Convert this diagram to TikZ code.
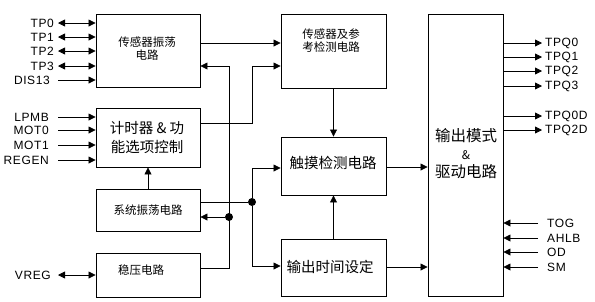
\documentclass[tikz,border=0pt]{standalone}
\usepackage{fontspec}
\setmainfont{Liberation Sans}
\newfontfamily\cjk{Noto Sans CJK SC}
\newfontfamily\pinfont[LetterSpace=5]{Liberation Sans}
\usetikzlibrary{arrows.meta}

\tikzset{
  blk/.style={draw, line width=0.9pt, inner sep=0pt},
  pin/.style={font=\pinfont\fontsize{12}{13}\selectfont, inner sep=0pt},
  arr/.style={line width=0.8pt, -{Triangle[length=7pt,width=7pt]}},
  darr/.style={line width=0.8pt, {Triangle[length=7pt,width=7pt]}-{Triangle[length=7pt,width=7pt]}},
  txts/.style={font=\cjk\fontsize{11.5}{13}\selectfont, align=center},
  txtl/.style={font=\cjk\fontsize{14.5}{19}\selectfont, align=center},
  dot/.style={circle, fill, inner sep=0pt, minimum size=8pt},
}

\begin{document}
\begin{tikzpicture}[x=1pt,y=-1pt]
\useasboundingbox (0,0) rectangle (595,301);

%left column of blocks
\node[blk, minimum width=104, minimum height=73] (osc) at (148,50.5) {};
\node[blk, minimum width=104, minimum height=59] (timer) at (148,137.5) {};
\node[blk, minimum width=104, minimum height=42] (sysosc) at (148,210) {};
\node[blk, minimum width=104, minimum height=44] (reg) at (148,275) {};

%middle column of blocks
\node[blk, minimum width=105, minimum height=74] (ref) at (333.5,51) {};
\node[blk, minimum width=105, minimum height=58] (touch) at (333.5,166) {};
\node[blk, minimum width=105, minimum height=57] (outtime) at (333.5,267.5) {};

%output block
\node[blk, minimum width=75, minimum height=282] (outdrv) at (465.5,155) {};

%block texts
\node[txts] (osct) at (147,49) {传感器振荡\\电路};
\node[txts, align=left] (reft) at (331,41) {传感器及参\\考检测电路};
\node[txtl] (timert) at (147,138) {计时器 \& 功\\能选项控制};
\node[txts] (sysosct) at (148,210) {系统振荡电路};
\node[txts] (regt) at (141,270) {稳压电路};
\node[txtl] (toucht) at (333,163) {触摸检测电路};
\node[txtl] (outtimet) at (330,267) {输出时间设定};
\node[font=\cjk\fontsize{15.5}{18}\selectfont, align=center] (outdrvt) at (466,154) {输出模式\\{\fontsize{12}{12}\selectfont\&}\\驱动电路};

%left pins
\node[pin, anchor=east] (tp0) at (54,23) {TP0};
\node[pin, anchor=east] (tp1) at (54,37) {TP1};
\node[pin, anchor=east] (tp2) at (54,51) {TP2};
\node[pin, anchor=east] (tp3) at (54,66) {TP3};
\node[pin, anchor=east] (dis) at (50,80) {DIS13};
\node[pin, anchor=east] (lpmb) at (49,117) {LPMB};
\node[pin, anchor=east] (mot0) at (49,130) {MOT0};
\node[pin, anchor=east] (mot1) at (49,145) {MOT1};
\node[pin, anchor=east] (regen) at (49,160) {REGEN};
\node[pin, anchor=east] (vreg) at (51,275) {VREG};

\draw[darr] ([xshift=4pt]tp0.east) -- (tp0 -| osc.west);
\draw[darr] ([xshift=4pt]tp1.east) -- (tp1 -| osc.west);
\draw[darr] ([xshift=4pt]tp2.east) -- (tp2 -| osc.west);
\draw[darr] ([xshift=4pt]tp3.east) -- (tp3 -| osc.west);
\draw[arr] ([xshift=8pt]dis.east) -- (dis -| osc.west);
\draw[arr] ([xshift=9pt]lpmb.east) -- (lpmb -| timer.west);
\draw[arr] ([xshift=9pt]mot0.east) -- (mot0 -| timer.west);
\draw[arr] ([xshift=9pt]mot1.east) -- (mot1 -| timer.west);
\draw[arr] ([xshift=9pt]regen.east) -- (regen -| timer.west);
\draw[darr] ([xshift=7pt]vreg.east) -- (vreg -| reg.west);

%right pins
\node[pin, anchor=west] (q0) at (545,43) {TPQ0};
\node[pin, anchor=west] (q1) at (545,57) {TPQ1};
\node[pin, anchor=west] (q2) at (545,71) {TPQ2};
\node[pin, anchor=west] (q3) at (545,86) {TPQ3};
\node[pin, anchor=west] (q0d) at (545,116) {TPQ0D};
\node[pin, anchor=west] (q2d) at (545,130) {TPQ2D};
\node[pin, anchor=west] (tog) at (547,223) {TOG};
\node[pin, anchor=west] (ahlb) at (547,238) {AHLB};
\node[pin, anchor=west] (od) at (547,252) {OD};
\node[pin, anchor=west] (sm) at (547,267) {SM};

\draw[arr] (q0 -| outdrv.east) -- ([xshift=-3pt]q0.west);
\draw[arr] (q1 -| outdrv.east) -- ([xshift=-3pt]q1.west);
\draw[arr] (q2 -| outdrv.east) -- ([xshift=-3pt]q2.west);
\draw[arr] (q3 -| outdrv.east) -- ([xshift=-3pt]q3.west);
\draw[arr] (q0d -| outdrv.east) -- ([xshift=-3pt]q0d.west);
\draw[arr] (q2d -| outdrv.east) -- ([xshift=-3pt]q2d.west);
\draw[arr] ([xshift=-9pt]tog.west) -- (tog -| outdrv.east);
\draw[arr] ([xshift=-9pt]ahlb.west) -- (ahlb -| outdrv.east);
\draw[arr] ([xshift=-9pt]od.west) -- (od -| outdrv.east);
\draw[arr] ([xshift=-9pt]sm.west) -- (sm -| outdrv.east);

%junctions
\node[dot] (j1) at (229,217) {};
\node[dot] (j2) at (252,202) {};

%inner connections
\draw[arr] (osc.east |- 0,43) -- (ref.west |- 0,43);
\draw[arr] (timer.east |- 0,123) -| (252,66) -- (ref.west |- 0,66);
\draw[arr] (reg.east |- 0,268) -| (229,66) -- (osc.east |- 0,66);
\draw[arr] (j1) -- (sysosc.east |- j1);
\draw[line width=0.8pt] (sysosc.east |- j2) -- (j2);
\draw[arr] (j2) |- (touch.west |- 0,168);
\draw[arr] (j2) |- (outtime.west |- 0,266);
\draw[arr] (sysosc.north) -- (timer.south);
\draw[arr] (ref.south) -- (touch.north);
\draw[arr] (outtime.north) -- (touch.south);
\draw[arr] (touch.east |- 0,167) -- (outdrv.west |- 0,167);
\draw[arr] (outtime.east |- 0,267) -- (outdrv.west |- 0,267);

\end{tikzpicture}
\end{document}
